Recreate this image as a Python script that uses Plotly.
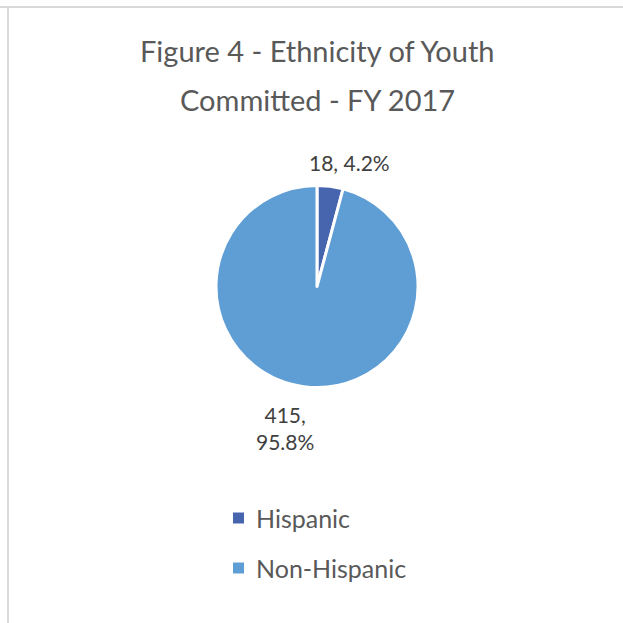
import plotly.graph_objects as go

categories = ["Hispanic", "Non-Hispanic"]
counts = [18, 415]
colors = ["#4764AE", "#5F9ED4"]
title_lines = ["Figure 4 - Ethnicity of Youth", "Committed - FY 2017"]

W = H = 623
total = sum(counts)
pcts = [c / total * 100 for c in counts]

def px(x):
    return x / W

def py(y):
    return 1 - y / H

fig = go.Figure()
fig.add_trace(go.Pie(
    labels=categories,
    values=counts,
    sort=False,
    direction="clockwise",
    rotation=0,
    marker=dict(colors=colors, line=dict(color="white", width=3)),
    textinfo="none",
    hoverinfo="label+value+percent",
    showlegend=False,
    domain=dict(x=[px(216), px(418)], y=[py(388), py(185)]),
))

font_family = "Lato, Open Sans, sans-serif"
text_color = "#595959"
label_color = "#404040"

annotations = []
# title
for line, y in zip(title_lines, [51, 99]):
    annotations.append(dict(x=px(317), y=py(y), xref="paper", yref="paper",
                            text=line, showarrow=False, xanchor="center", yanchor="middle",
                            font=dict(family=font_family, size=29, color=text_color)))
# data labels
annotations.append(dict(x=px(349), y=py(162), xref="paper", yref="paper",
                        text=f"{counts[0]}, {pcts[0]:.1f}%", showarrow=False,
                        xanchor="center", yanchor="middle",
                        font=dict(family=font_family, size=21, color=label_color)))
annotations.append(dict(x=px(285), y=py(428), xref="paper", yref="paper",
                        text=f"{counts[1]},<br>{pcts[1]:.1f}%", showarrow=False,
                        xanchor="center", yanchor="middle", align="center",
                        font=dict(family=font_family, size=21, color=label_color)))
# legend
shapes = []
for cat, col, y in zip(categories, colors, [518, 568]):
    shapes.append(dict(type="rect", xref="paper", yref="paper",
                       x0=px(233), x1=px(244), y0=py(y + 5.5), y1=py(y - 5.5),
                       fillcolor=col, line=dict(width=0)))
    annotations.append(dict(x=px(254), y=py(y), xref="paper", yref="paper",
                            text=cat, showarrow=False, xanchor="left", yanchor="middle",
                            font=dict(family=font_family, size=25, color=text_color)))
# frame lines
shapes.append(dict(type="line", xref="paper", yref="paper", x0=0, x1=1,
                   y0=py(7), y1=py(7), line=dict(color="#D9D9D9", width=2)))
shapes.append(dict(type="line", xref="paper", yref="paper", x0=px(8), x1=px(8),
                   y0=py(7), y1=0, line=dict(color="#D9D9D9", width=2)))

fig.update_layout(
    width=W, height=H,
    margin=dict(l=0, r=0, t=0, b=0),
    paper_bgcolor="white",
    plot_bgcolor="white",
    annotations=annotations,
    shapes=shapes,
    showlegend=False,
)

fig.write_html("out.html", config={"displayModeBar": False},
               post_script="document.body.style.margin='0';document.body.style.overflow='hidden';")
